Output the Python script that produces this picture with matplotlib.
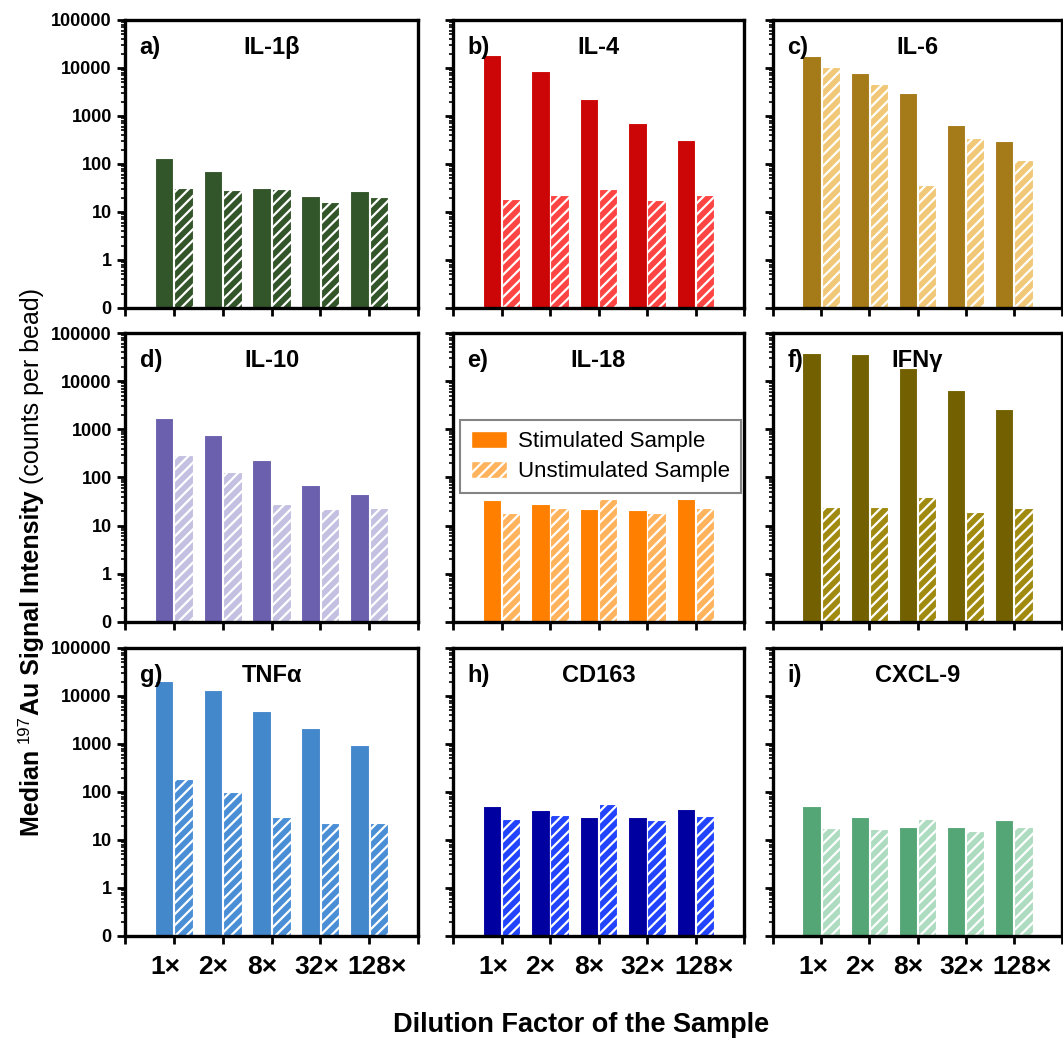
import matplotlib
matplotlib.use('Agg')
import matplotlib.pyplot as plt
import numpy as np
from matplotlib import font_manager
from matplotlib.patches import Patch

plt.rcParams['font.family'] = ['Liberation Sans', 'DejaVu Sans']
plt.rcParams['hatch.linewidth'] = 1.6

# data (median counts per bead)
dilutions = ['1×', '2×', '8×', '32×', '128×']
panel_tags = ['a)', 'b)', 'c)', 'd)', 'e)', 'f)', 'g)', 'h)', 'i)']
analytes = ['IL-1β', 'IL-4', 'IL-6', 'IL-10', 'IL-18', 'IFNγ', 'TNFα', 'CD163', 'CXCL-9']

il1b_stim = [135, 73, 31, 21.6, 26.7]
il1b_unstim = [31, 28, 30, 16.4, 20.6]
il4_stim = [18600, 8600, 2260, 720, 319]
il4_unstim = [18.2, 22, 30.7, 17.3, 23]
il6_stim = [17700, 7800, 2970, 650, 304]
il6_unstim = [10400, 4570, 37, 350, 123]
il10_stim = [1680, 760, 226, 70, 45]
il10_unstim = [292, 128, 27.6, 21.8, 23]
il18_stim = [33.5, 27.7, 21.8, 20.8, 35]
il18_unstim = [18, 22.9, 35, 18, 22.9]
ifng_stim = [37700, 36000, 18500, 6500, 2650]
ifng_unstim = [24, 24, 38.7, 19, 23]
tnfa_stim = [20300, 13150, 4800, 2120, 935]
tnfa_unstim = [189, 100, 29.4, 22, 22]
cd163_stim = [51.5, 41.9, 29.9, 29.9, 44]
cd163_unstim = [27.2, 33.4, 56.7, 25.9, 31.9]
cxcl9_stim = [50.6, 29.4, 19, 18.2, 25.4]
cxcl9_unstim = [17.3, 16.5, 26.7, 15, 18.2]

stim_data = [il1b_stim, il4_stim, il6_stim, il10_stim, il18_stim,
             ifng_stim, tnfa_stim, cd163_stim, cxcl9_stim]
unstim_data = [il1b_unstim, il4_unstim, il6_unstim, il10_unstim, il18_unstim,
               ifng_unstim, tnfa_unstim, cd163_unstim, cxcl9_unstim]

stim_colors = ['#33552a', '#cc0606', '#a57a18', '#6a60ae', '#ff8000',
               '#736000', '#4488cc', '#0000a0', '#55a677']
unstim_colors = ['#33552a', '#ff4444', '#f0c878', '#c4c0e2', '#ffb35c',
                 '#a08a10', '#4a8fd6', '#2244ff', '#aedcc0']

# condensed font for the x texts if available
try:
    font_manager.findfont(font_manager.FontProperties(family='Liberation Sans Narrow', weight='bold'),
                          fallback_to_default=False)
    narrow = 'Liberation Sans Narrow'
    xt_size, xl_size = 22, 22
except ValueError:
    narrow = 'Liberation Sans'
    xt_size, xl_size = 19, 19.5

W, H = 1063, 1041
fig = plt.figure(figsize=(W / 100, H / 100), dpi=100)

col_left = [125, 453, 773]
col_width = [293, 291, 289]
row_top = [20, 333, 648]
row_bottom = [308, 622, 936]

x = np.arange(1, 6)
label_shift = np.array([-0.17, -0.2, -0.2, -0.08, 0.17])
bw = 0.38
axes = []
for k in range(9):
    r, c = divmod(k, 3)
    ax = fig.add_axes([col_left[c] / W, 1 - row_bottom[r] / H,
                       col_width[c] / W, (row_bottom[r] - row_top[r]) / H])
    axes.append(ax)
    ax.bar(x - 0.2, stim_data[k], width=bw, color=stim_colors[k],
           edgecolor='white', linewidth=0.8, bottom=0.1)
    ax.bar(x + 0.2, unstim_data[k], width=bw, color=unstim_colors[k],
           edgecolor='white', linewidth=0.8, hatch='///', bottom=0.1)
    ax.set_yscale('log')
    ax.set_ylim(0.1, 100000)
    ax.set_xlim(0, 6)
    ax.set_yticks([0.1, 1, 10, 100, 1000, 10000, 100000])
    if c == 0:
        ax.set_yticklabels(['0', '1', '10', '100', '1000', '10000', '100000'],
                           fontsize=13, fontweight='bold')
    else:
        ax.set_yticklabels([])
    ax.set_xticks(range(7))
    ax.set_xticklabels([])
    if r == 2:
        ax.set_xticks(x + label_shift, dilutions, minor=True)
        ax.tick_params(axis='x', which='minor', length=0, pad=14)
        for lab in ax.get_xticklabels(minor=True):
            lab.set_fontfamily(narrow)
            lab.set_fontweight('bold')
            lab.set_fontsize(xt_size)
    ax.tick_params(axis='both', which='major', direction='out', length=6, width=2)
    ax.tick_params(axis='y', which='minor', direction='out', length=3, width=1.2)
    for sp in ax.spines.values():
        sp.set_linewidth(2.4)
    ax.text(0.5, 0.905, analytes[k], transform=ax.transAxes, ha='center', va='center',
            fontsize=17, fontweight='bold')
    ax.text(0.05, 0.905, panel_tags[k], transform=ax.transAxes, ha='left', va='center',
            fontsize=17, fontweight='bold')

# legend inside panel e
handles = [Patch(facecolor=stim_colors[4], edgecolor='white', label='Stimulated Sample'),
           Patch(facecolor=unstim_colors[4], edgecolor='white', hatch='///',
                 label='Unstimulated Sample')]
leg = axes[4].legend(handles=handles, loc='upper left', bbox_to_anchor=(0.025, 0.70),
                     fontsize=16, frameon=True, fancybox=False, handlelength=1.6,
                     handleheight=0.8, handletextpad=0.5, borderpad=0.5, labelspacing=0.4,
                     borderaxespad=0)
leg.get_frame().set_edgecolor('#666666')
leg.get_frame().set_linewidth(1.5)

# x label
fig.text(581 / W, 16 / H, 'Dilution Factor of the Sample', ha='center', va='center',
         fontsize=xl_size, fontweight='bold', fontfamily=narrow)

# y label built from pieces (rotated)
renderer = fig.canvas.get_renderer()
pieces = [('Median ', 'bold', 18, 0), ('197', 'normal', 12, -10),
          ('Au Signal Intensity', 'bold', 18, 0), (' (counts per bead)', 'normal', 18, 0)]
xb = 39
texts = []
total = 0
for s, w, size, dx in pieces:
    t = fig.text(xb / W, 0, s, rotation=90, rotation_mode='anchor', ha='left',
                 va='baseline', fontsize=size, fontweight=w)
    ext = t.get_window_extent(renderer)
    texts.append((t, ext.height, dx))
    total += ext.height
y0 = 479 - total / 2
for t, h, dx in texts:
    t.set_position(((xb + dx) / W, y0 / H))
    y0 += h

fig.savefig('out.png', dpi=100)
